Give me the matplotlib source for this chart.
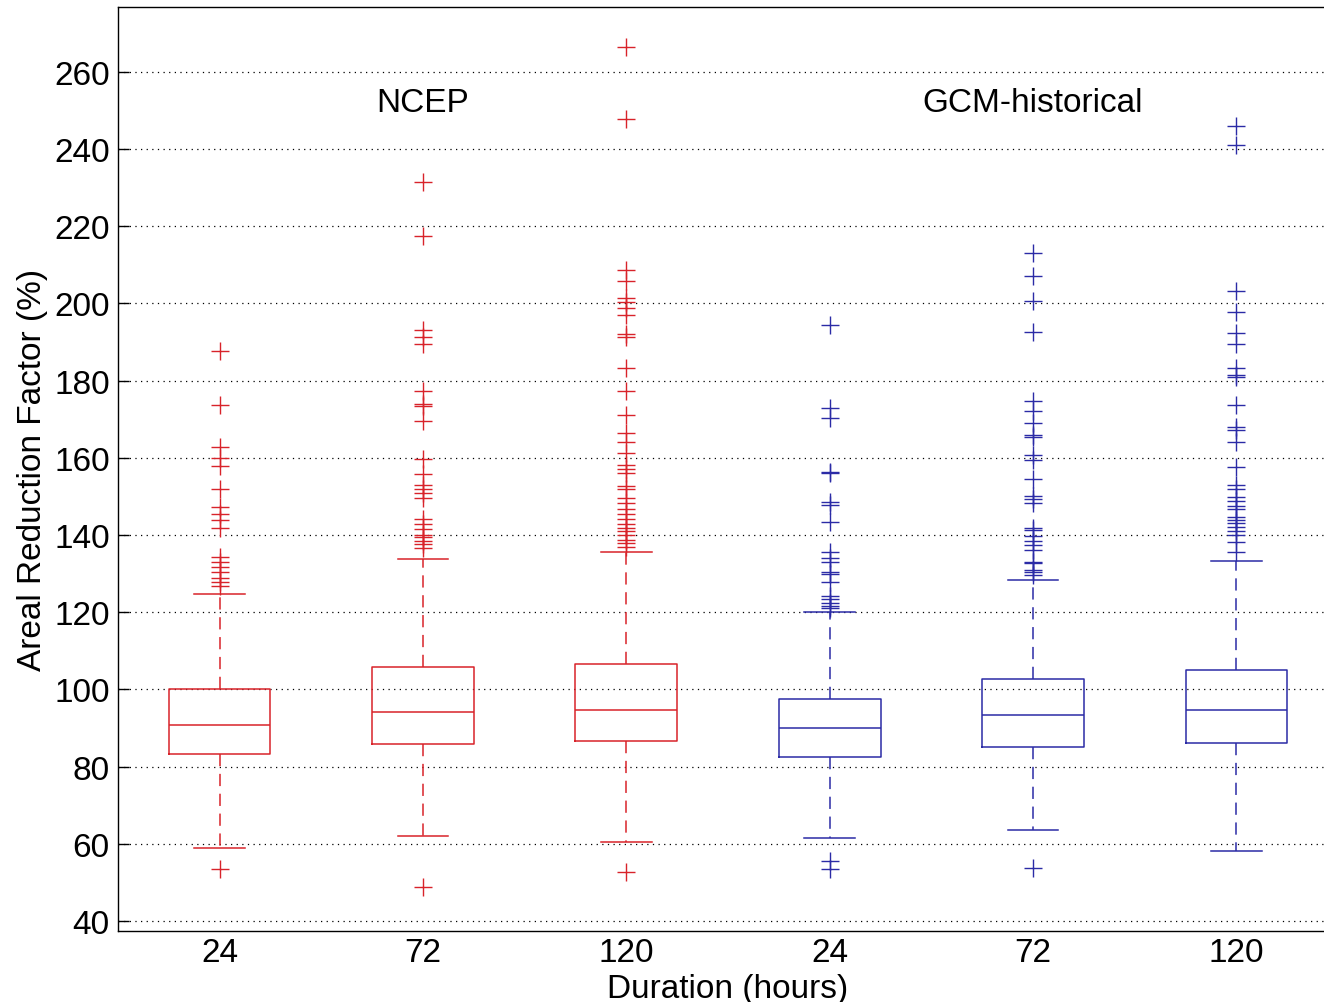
import matplotlib.pyplot as plt
import numpy as np

# Box statistics (Areal Reduction Factor, %)
tick_labels = ['24', '72', '120', '24', '72', '120']
group_names = ['NCEP', 'GCM-historical']
q1 = [83.3, 85.9, 86.6, 82.5, 85.1, 86.1]
medians = [90.8, 94.2, 94.7, 90.0, 93.4, 94.7]
q3 = [100.1, 105.8, 106.6, 97.5, 102.7, 105.0]
whisker_lo = [58.9, 62.0, 60.5, 61.5, 63.6, 58.1]
whisker_hi = [124.8, 133.7, 135.5, 120.0, 128.4, 133.3]

# outliers
ncep_24 = [187.8, 173.7, 162.9, 159.9, 158.0, 151.9, 147.2, 145.5, 143.9, 141.8,
           134.4, 132.9, 131.6, 130.5, 128.8, 127.8, 126.9, 53.5]
ncep_72 = [231.5, 217.5, 193.2, 191.4, 189.5, 177.2, 174.0, 173.4, 169.6, 159.7,
           155.8, 153.0, 151.9, 150.9, 149.5, 144.2, 142.9, 141.6, 140.0, 139.6,
           138.5, 137.7, 136.6, 48.8]
ncep_120 = [266.4, 247.8, 208.7, 205.7, 201.4, 200.5, 198.7, 197.0, 192.1, 191.2,
            183.3, 177.4, 171.2, 166.3, 164.2, 161.3, 158.1, 157.1, 156.1, 152.6,
            151.8, 149.7, 148.2, 146.7, 145.4, 144.2, 142.9, 141.9, 141.0, 140.0,
            138.7, 137.8, 136.8, 52.7]
gcm_24 = [194.4, 172.8, 170.3, 156.4, 156.0, 148.5, 147.8, 143.3, 135.7, 134.0,
          132.9, 130.5, 129.9, 127.9, 124.1, 123.4, 122.4, 121.5, 121.0, 55.5, 53.5]
gcm_72 = [213.1, 207.2, 200.7, 192.5, 174.6, 172.1, 169.0, 165.9, 165.3, 160.6,
          159.5, 154.4, 150.2, 149.2, 148.3, 141.8, 141.3, 139.8, 138.5, 137.4,
          136.2, 132.9, 132.7, 130.9, 130.3, 129.7, 53.7]
gcm_120 = [245.9, 241.1, 203.1, 197.7, 192.4, 189.5, 183.2, 181.5, 180.9, 173.7,
           167.9, 167.1, 164.0, 157.6, 153.0, 151.9, 149.8, 148.9, 147.6, 146.8,
           144.6, 143.8, 143.1, 142.2, 141.1, 140.0, 138.3, 135.5]
outliers = [ncep_24, ncep_72, ncep_120, gcm_24, gcm_72, gcm_120]

red = '#d8232a'
blue = '#2b2ba6'
colors = [red, red, red, blue, blue, blue]

plt.rcParams['font.family'] = ['Liberation Sans', 'DejaVu Sans']
fs = 24

fig = plt.figure(figsize=(13.24, 10.03), dpi=100)
ax = fig.add_axes([0.0891, 0.0708, 0.9215, 0.9212])

for i in range(6):
    stats = [{'q1': q1[i], 'med': medians[i], 'q3': q3[i],
              'whislo': whisker_lo[i], 'whishi': whisker_hi[i],
              'fliers': np.array(outliers[i])}]
    c = colors[i]
    ax.bxp(stats, positions=[i + 1], widths=0.5, capwidths=0.25,
           boxprops=dict(color=c, linewidth=1.1),
           medianprops=dict(color=c, linewidth=1.1),
           whiskerprops=dict(color=c, linewidth=1.1, linestyle=(0, (8, 5))),
           capprops=dict(color=c, linewidth=1.1),
           flierprops=dict(marker='+', markeredgecolor=c, markersize=13,
                           markeredgewidth=1.0, linestyle='none'),
           manage_ticks=False)

ax.set_xlim(0.5, 6.5)
ax.set_ylim(37.4, 276.8)
ax.set_yticks(np.arange(40, 261, 20))
ax.set_xticks(range(1, 7))
ax.set_xticklabels(tick_labels)
ax.yaxis.grid(True, linestyle=(0, (1, 3.5)), color='black', linewidth=0.9)
ax.set_axisbelow(True)
ax.tick_params(direction='in', length=8, width=1, labelsize=fs, pad=6)
ax.tick_params(axis='x', length=0, pad=4)
for s in ax.spines.values():
    s.set_linewidth(1.0)

ax.text(2, 252, group_names[0], ha='center', va='center', fontsize=fs)
ax.text(5, 252, group_names[1], ha='center', va='center', fontsize=fs)

ax.set_xlabel('Duration (hours)', fontsize=fs, labelpad=4)
ax.set_ylabel('Areal Reduction Factor (%)', fontsize=fs, labelpad=4)

fig.savefig('out.png', dpi=100)
